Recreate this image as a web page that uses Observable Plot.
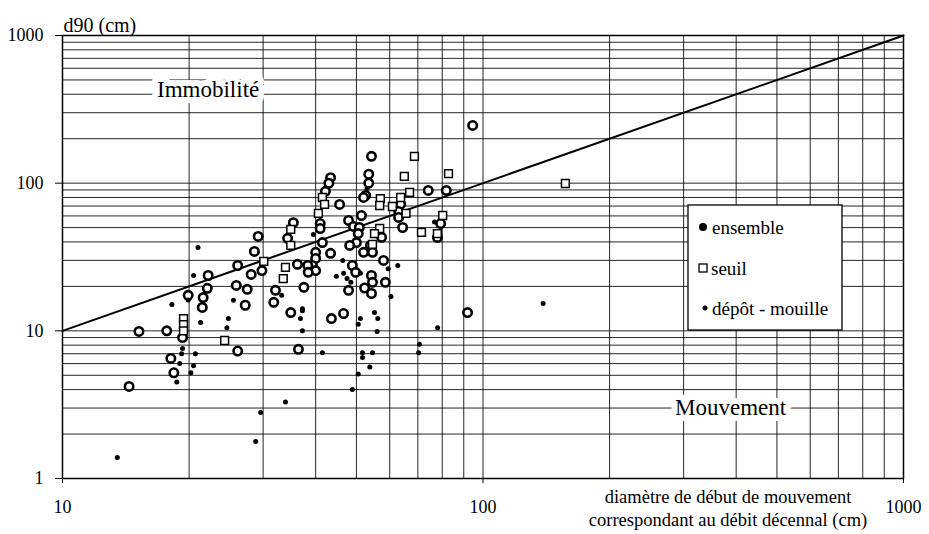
<!DOCTYPE html>
<html><head><meta charset="utf-8">
<script src="https://cdn.jsdelivr.net/npm/d3@7"></script>
<script src="https://cdn.jsdelivr.net/npm/@observablehq/plot@0.6"></script>
<style>
body{margin:0;background:#fff;}
#chart{width:929px;height:534px;}
#chart svg text{font-family:'Liberation Serif','Times New Roman',serif;}
</style></head><body><div id="chart"></div>
<script>
// d90 (cm) vs diamètre de début de mouvement (cm)
const ensemble = [[15.2,9.9],[17.7,10],[14.4,4.2],[19.3,9.0],[18.4,5.2],[18.1,6.5],[26.1,7.3],[36.4,7.5],
[35.4,54],[34.3,42.3],[29.2,43.6],[28.6,34.5],[26.1,27.7],[29.8,25.6],[28.1,24.1],[22.2,23.7],[22.1,19.4],[25.9,20.3],[27.5,19.1],[19.9,17.4],[21.6,16.8],[27.2,14.9],[21.5,14.4],[32.1,18.8],[31.8,15.6],[36.2,28.2],[37.5,19.7],[34.9,13.3],
[94.5,246],[54.3,152],[53.5,115],[43.4,109],[43,100],[53.5,100],[42.2,88],[52.6,82.6],[52,80],[45.6,71.8],[41,53.3],[41,49.3],[41.5,39.6],[51.4,60.4],[63.7,72],[63,64.3],[63,58.6],[74.1,89.3],[81.8,89.3],[79.3,53.3],[77.9,42.9],[64.4,50.1],[57.4,43],[47.9,55.9],[49.2,50.9],[50.8,50.1],[50.5,45.6],[50,39.6],[48.2,37.9],[43.4,33.5],[40,34],[40,30.9],[39.3,27.7],[40,25.6],[38.3,27.7],[38.4,24.9],[54,37.9],[54.6,34],[52,34],[48.9,27.7],[49.8,24.9],[54.3,23.7],[54.6,21.3],[52.3,19.5],[54.3,17.9],[58,30],[58.6,21.3],[47.9,18.8],[43.6,12.1],[46.6,13.1],[91.9,13.3]];
const seuil = [[19.4,12.1],[19.4,11],[19.4,10],[24.3,8.6],[30.1,29.5],[34.9,48.6],[34.9,37.9],[33.9,26.9],[33.5,22.6],[68.7,152],[82.8,116],[65,111],[41.5,80],[42,71.8],[40.6,62.4],[57,78.7],[56.8,70.6],[60.9,69.5],[63.7,80],[66.9,86.5],[65.6,62.4],[80.2,60.4],[77.9,45.6],[71.4,46.4],[56.8,49.3],[55.2,45.6],[54.6,38.5],[157,99.5]];
const depot = [[13.5,1.39],[28.8,1.78],[29.6,2.8],[33.9,3.3],[19.3,7.6],[19.2,7.0],[19.0,6.0],[18.7,4.5],[20.7,7.0],[20.5,5.8],[20.2,5.2],[21.3,11.4],[24.6,10.5],[37.2,10],[21.0,36.7],[20.5,23.7],[25.5,16.1],[18.2,15.1],[19.9,16.2],[24.8,12.1],[33.2,17.4],[37.2,13.7],[36.8,12.1],[37.2,14.1],[53,92],[76.7,54.6],[39.5,44.9],[46.4,30],[51.1,24.5],[44.8,23.4],[46.6,24.5],[47.5,22.6],[48.5,21.3],[59.5,26.3],[62.7,27.7],[60.4,17.1],[51.1,12.1],[50.5,11.1],[55.2,13.3],[56.2,12.1],[56,9.9],[78,10.5],[70.6,8.1],[70.3,7.1],[41.5,7.1],[51.7,7.1],[51.7,6.6],[54.6,7.1],[53.8,5.7],[50.5,5.1],[48.9,4.0],[139,15.3]];
const xTicks = [10, 100, 1000];
const yTicks = [1, 10, 100, 1000];
const xGrid = [20,30,40,50,60,70,80,90,100,200,300,400,500,600,700,800,900];
const yGrid = [2,3,4,5,6,7,8,9,10,20,30,40,50,60,70,80,90,100,200,300,400,500,600,700,800,900];
const diagonal = [10, 1000];
const legendItems = ["ensemble", "seuil", "dépôt - mouille"];
const regionLabels = [{text:"Immobilité", x:22.2, y:430}, {text:"Mouvement", x:388, y:3.03}];
const yTitle = "d90 (cm)";
const xTitle = "diamètre de début de mouvement\ncorrespondant au débit décennal (cm)";

const toObj = a => a.map(([x, y]) => ({x, y}));
const FONT = "Liberation Serif";

const chart = Plot.plot({
  width: 929, height: 534,
  marginLeft: 62, marginRight: 26, marginTop: 35, marginBottom: 56,
  style: {fontFamily: FONT, fontSize: "18px", color: "#000", background: "#fff"},
  x: {type: "log", domain: [10, 1000]},
  y: {type: "log", domain: [1, 1000]},
  marks: [
    Plot.ruleX(xGrid, {stroke: "#000", strokeWidth: 1, strokeOpacity: 0.85}),
    Plot.ruleY(yGrid, {stroke: "#000", strokeWidth: 1, strokeOpacity: 0.85}),
    Plot.text(regionLabels, {x: "x", y: "y", text: "text", fontFamily: FONT, fontSize: 23, fill: "#000", stroke: "#fff", strokeWidth: 12, paintOrder: "stroke"}),
    Plot.line(diagonal, {x: d => d, y: d => d, stroke: "#000", strokeWidth: 2}),
    Plot.dot(toObj(ensemble), {x: "x", y: "y", r: 4.2, stroke: "#000", strokeWidth: 2.6, fill: "#fff"}),
    Plot.dot(toObj(seuil), {x: "x", y: "y", symbol: "square", r: 4.4, stroke: "#000", strokeWidth: 1.5, fill: "#fff"}),
    Plot.dot(toObj(depot), {x: "x", y: "y", r: 2.5, fill: "#000"}),
    Plot.frame({stroke: "#000", strokeWidth: 1.5}),
    Plot.axisX(xTicks, {tickFormat: d => String(d), tickSize: 5, tickPadding: 17, label: null, fontFamily: FONT, fontSize: 18}),
    Plot.axisY(yTicks, {tickFormat: d => String(d), tickSize: 7, tickPadding: 12, label: null, fontFamily: FONT, fontSize: 18}),
    Plot.text([yTitle], {frameAnchor: "top-left", textAnchor: "start", dy: -18, dx: 1, fontFamily: FONT, fontSize: 20}),
    Plot.text([xTitle], {frameAnchor: "bottom", dx: 245, dy: 29, lineAnchor: "middle", lineHeight: 1.25, fontFamily: FONT, fontSize: 18.5})
  ]
});
document.getElementById("chart").appendChild(chart);

// legend box inside plot area
const svg = d3.select(chart);
const lg = svg.append("g").attr("font-family", FONT).attr("font-size", 19).attr("text-anchor", "start");
lg.append("rect").attr("x", 688).attr("y", 205).attr("width", 154).attr("height", 125)
  .attr("fill", "#fff").attr("stroke", "#000").attr("stroke-width", 1.3);
const rows = [227, 268, 308];
lg.append("circle").attr("cx", 703).attr("cy", rows[0]).attr("r", 4).attr("fill", "#000");
lg.append("rect").attr("x", 699).attr("y", rows[1] - 4).attr("width", 8).attr("height", 8)
  .attr("fill", "#fff").attr("stroke", "#000").attr("stroke-width", 1.3);
lg.append("circle").attr("cx", 705).attr("cy", rows[2]).attr("r", 2.5).attr("fill", "#000");
legendItems.forEach((t, i) => {
  lg.append("text").attr("x", i === 1 ? 711 : 712).attr("y", rows[i]).attr("dy", "0.35em")
    .attr("text-anchor", "start").text(t);
});
</script></body></html>
